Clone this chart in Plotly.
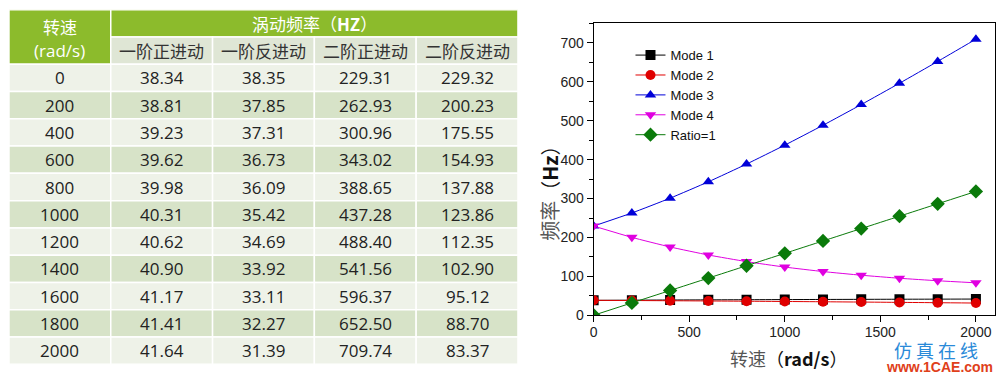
import plotly.graph_objects as go

# ---------------- data ----------------
speed = [0, 200, 400, 600, 800, 1000, 1200, 1400, 1600, 1800, 2000]
mode1 = [38.34, 38.81, 39.23, 39.62, 39.98, 40.31, 40.62, 40.90, 41.17, 41.41, 41.64]
mode2 = [38.35, 37.85, 37.31, 36.73, 36.09, 35.42, 34.69, 33.92, 33.11, 32.27, 31.39]
mode3 = [229.31, 262.93, 300.96, 343.02, 388.65, 437.28, 488.40, 541.56, 596.37, 652.50, 709.74]
mode4 = [229.32, 200.23, 175.55, 154.93, 137.88, 123.86, 112.35, 102.90, 95.12, 88.70, 83.37]
ratio1 = [0, 31.83, 63.66, 95.49, 127.32, 159.15, 190.99, 222.82, 254.65, 286.48, 318.31]

col_headers = ["一阶正进动", "一阶反进动", "二阶正进动", "二阶反进动"]
group_header = "涡动频率（<b>HZ</b>）"
speed_header = ["转速", "(rad/s)"]
series_names = ["Mode 1", "Mode 2", "Mode 3", "Mode 4", "Ratio=1"]

W, H = 1001, 382

GREEN = "#8cbb2c"
HEAD2 = "#dfe6d5"
ROW_LIGHT = "#eef2e8"
ROW_DARK = "#d7e3c8"

fig = go.Figure()

# ---------------- chart ----------------
styles = [
    ("#000000", "square"),
    ("#e00000", "circle"),
    ("#0000d8", "triangle-up"),
    ("#e000e0", "triangle-down"),
    ("#0a7a0a", "diamond"),
]
for name, ys, (c, sym) in zip(series_names, [mode1, mode2, mode3, mode4, ratio1], styles):
    fig.add_trace(go.Scatter(
        x=speed, y=ys, name=name, mode="lines+markers",
        line=dict(color=c, width=1, shape="spline", smoothing=0.5),
        marker=dict(color=c, symbol=sym, size=10 if sym != "diamond" else 11),
        xaxis="x", yaxis="y",
    ))

# invisible trace for table axes
fig.add_trace(go.Scatter(x=[0], y=[0], mode="markers", marker=dict(opacity=0),
                         showlegend=False, hoverinfo="skip", xaxis="x2", yaxis="y2"))

fig.update_layout(
    width=W, height=H,
    margin=dict(l=0, r=0, t=0, b=0),
    paper_bgcolor="white", plot_bgcolor="white",
    font=dict(family="Liberation Sans, Arial", color="#222"),
    xaxis=dict(
        domain=[592 / W, 995 / W], range=[0, 2100],
        showline=True, linecolor="black", linewidth=1, mirror=True,
        ticks="outside", ticklen=6, tickcolor="black", dtick=500, tick0=0,
        minor=dict(ticks="outside", ticklen=4, dtick=250, tickcolor="black"),
        showgrid=False, zeroline=False, ticklabelstandoff=-2,
        tickfont=dict(size=14, color="#222"),
    ),
    yaxis=dict(
        domain=[1 - 322 / H, 1 - 24 / H], range=[0, 750],
        showline=True, linecolor="black", linewidth=1, mirror=True,
        ticks="outside", ticklen=6, tickcolor="black", dtick=100, tick0=0,
        minor=dict(ticks="outside", ticklen=4, dtick=50, tickcolor="black"),
        showgrid=False, zeroline=False,
        tickfont=dict(size=14, color="#222"),
    ),
    xaxis2=dict(domain=[5 / W, 516 / W], range=[0, 5], visible=False, fixedrange=True),
    yaxis2=dict(domain=[1 - 372 / H, 1 - 10 / H], range=[13, 0], visible=False, fixedrange=True),
    legend=dict(
        x=629 / W, y=1 - 41 / H, xanchor="left", yanchor="top",
        bgcolor="rgba(0,0,0,0)", font=dict(size=13, color="#111"),
        itemwidth=30, tracegroupgap=0,
    ),
    showlegend=True,
)

annotations = []
annotations.append(dict(
    xref="paper", yref="paper", x=548 / W, y=1 - 192 / H, xanchor="center", yanchor="middle",
    text="<span style='color:#555'>频率</span>（<b>Hz</b>）", textangle=-90,
    showarrow=False, font=dict(size=20, color="#111", family="Noto Sans CJK SC, Liberation Sans"),
))
annotations.append(dict(
    xref="paper", yref="paper", x=788 / W, y=1 - 366 / H, xanchor="center", yanchor="middle",
    text="<span style='color:#555'>转速</span>（<b>rad/s</b>）",
    showarrow=False, font=dict(size=18, color="#111", family="Noto Sans CJK SC, Liberation Sans"),
))
# watermark
annotations.append(dict(
    xref="paper", yref="paper", x=936 / W, y=1 - 357 / H, xanchor="center", yanchor="middle",
    text="仿 真 在 线", showarrow=False,
    font=dict(size=18, color="#2a8ad8", family="Noto Sans CJK SC"),
))
annotations.append(dict(
    xref="paper", yref="paper", x=939 / W, y=1 - 375 / H, xanchor="center", yanchor="middle",
    text="<b>www.1CAE.com</b>", showarrow=False,
    font=dict(size=14, color="#e0401a", family="Liberation Sans"),
))

# ---------------- table ----------------
shapes = []

def cell(x0, x1, y0, y1, color):
    shapes.append(dict(type="rect", xref="x2", yref="y2", x0=x0, x1=x1, y0=y0, y1=y1,
                       fillcolor=color, line=dict(color="white", width=1.5), layer="below"))

# header
cell(0, 1, 0, 2, GREEN)
cell(1, 5, 0, 1, GREEN)
for j in range(4):
    cell(1 + j, 2 + j, 1, 2, HEAD2)
# data rows
for i in range(len(speed)):
    color = ROW_LIGHT if i % 2 == 0 else ROW_DARK
    for j in range(5):
        cell(j, j + 1, 2 + i, 3 + i, color)

TFONT = "Open Sans, Noto Sans, Liberation Sans"
CJK = "Noto Sans CJK SC"

annotations.append(dict(xref="x2", yref="y2", x=0.5, y=0.6, text=speed_header[0],
                        showarrow=False, font=dict(size=17, color="white", family=CJK)))
annotations.append(dict(xref="x2", yref="y2", x=0.5, y=1.5, text=speed_header[1],
                        showarrow=False, font=dict(size=17, color="white", family=TFONT)))
annotations.append(dict(xref="x2", yref="y2", x=3.0, y=0.5, text=group_header,
                        showarrow=False, font=dict(size=17, color="white", family=CJK)))
for j, h in enumerate(col_headers):
    annotations.append(dict(xref="x2", yref="y2", x=1.5 + j, y=1.5, text=h,
                            showarrow=False, font=dict(size=17, color="#333", family=CJK)))

cols = [mode1, mode2, mode3, mode4]
for i, s in enumerate(speed):
    annotations.append(dict(xref="x2", yref="y2", x=0.5, y=2.5 + i, text=str(s),
                            showarrow=False, font=dict(size=17, color="#222", family=TFONT)))
    for j, col in enumerate(cols):
        annotations.append(dict(xref="x2", yref="y2", x=1.5 + j, y=2.5 + i,
                                text=f"{col[i]:.2f}", showarrow=False,
                                font=dict(size=17, color="#222", family=TFONT)))

fig.update_layout(shapes=shapes, annotations=annotations)

fig.write_html("out.html", config={"displayModeBar": False},
               post_script="document.body.style.margin='0';document.body.style.overflow='hidden';")
